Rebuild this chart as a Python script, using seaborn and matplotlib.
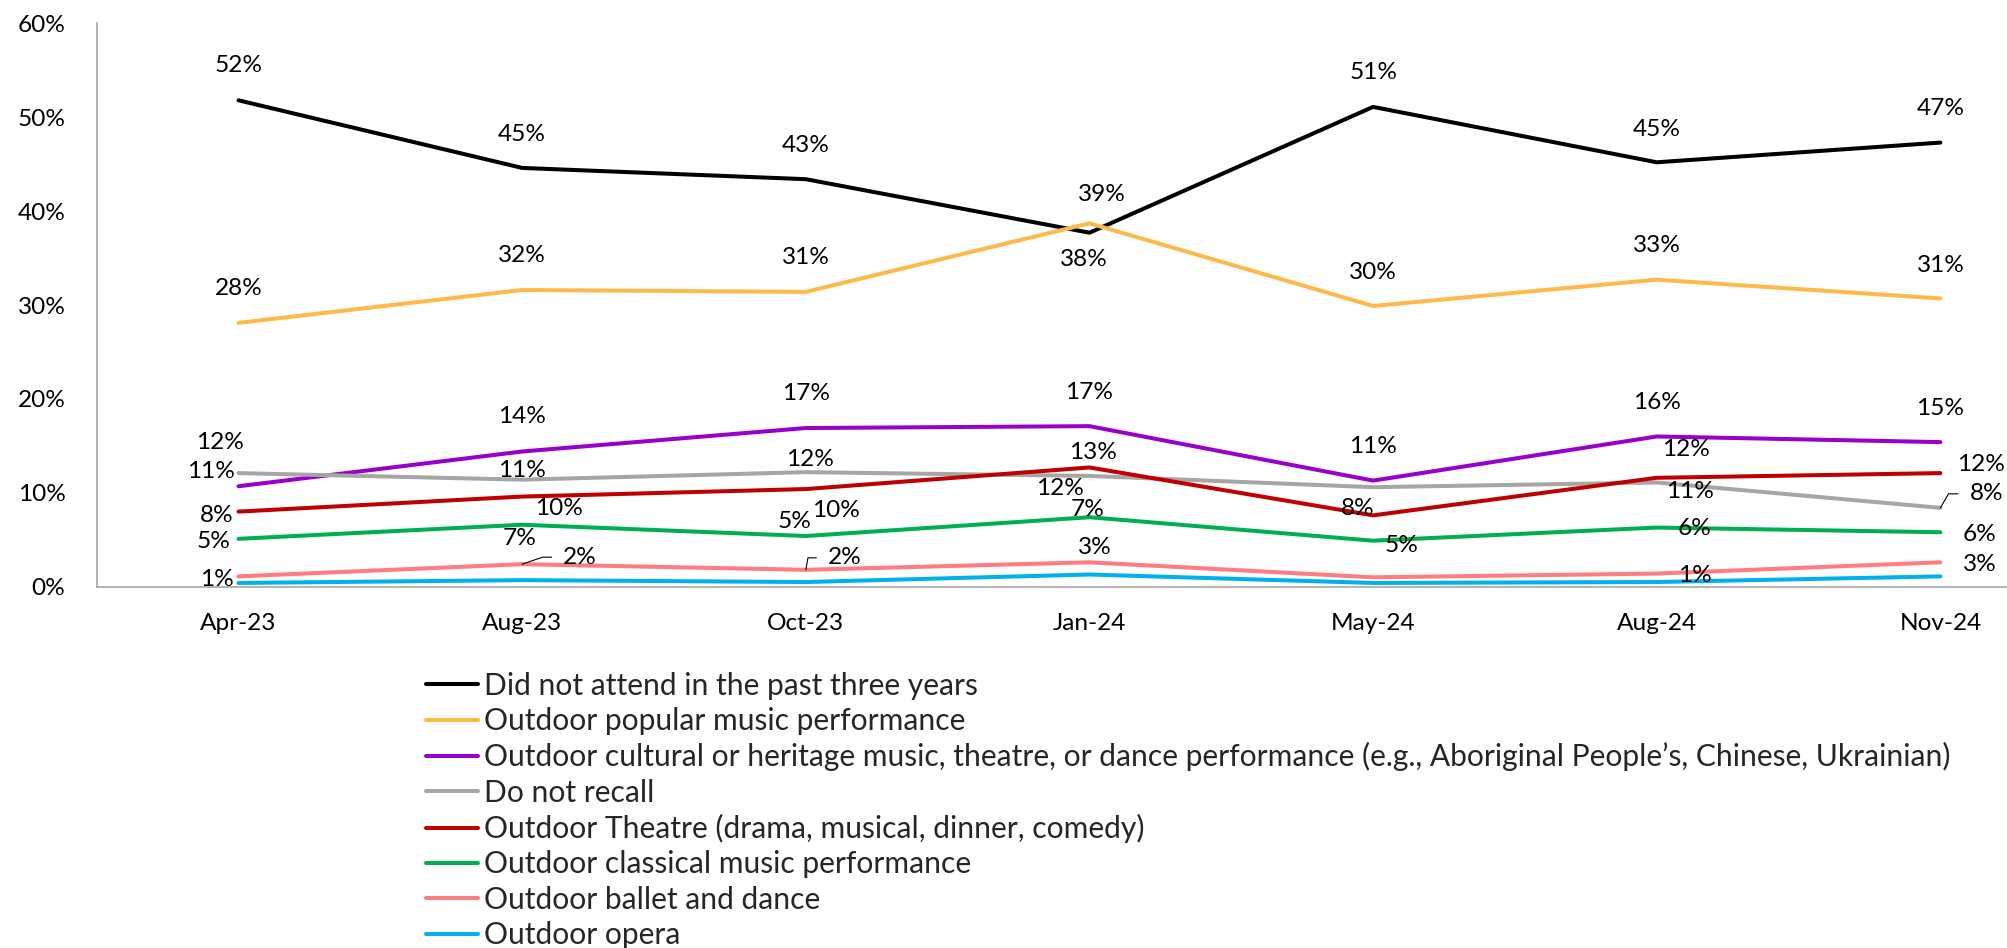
import matplotlib
matplotlib.use("Agg")
import matplotlib.pyplot as plt
from matplotlib.lines import Line2D
from matplotlib.ticker import PercentFormatter, FixedLocator
import seaborn as sns
import pandas as pd

# Survey waves
periods = ["Apr-23", "Aug-23", "Oct-23", "Jan-24", "May-24", "Aug-24", "Nov-24"]

# Share of respondents (%) per wave
did_not_attend = [51.8, 44.6, 43.4, 37.7, 51.1, 45.2, 47.3]
popular_music = [28.1, 31.6, 31.4, 38.7, 29.9, 32.7, 30.7]
cultural_heritage = [10.7, 14.4, 16.9, 17.1, 11.3, 16.0, 15.4]
do_not_recall = [12.1, 11.4, 12.2, 11.8, 10.6, 11.1, 8.4]
theatre = [8.0, 9.6, 10.4, 12.7, 7.6, 11.6, 12.1]
classical_music = [5.1, 6.6, 5.4, 7.4, 4.9, 6.3, 5.8]
ballet_dance = [1.1, 2.4, 1.8, 2.6, 1.0, 1.4, 2.6]
opera = [0.4, 0.7, 0.5, 1.3, 0.4, 0.5, 1.1]

series_names = [
    "Did not attend in the past three years",
    "Outdoor popular music performance",
    "Outdoor cultural or heritage music, theatre, or dance performance (e.g., Aboriginal People\u2019s, Chinese, Ukrainian)",
    "Do not recall",
    "Outdoor Theatre (drama, musical, dinner, comedy)",
    "Outdoor classical music performance",
    "Outdoor ballet and dance",
    "Outdoor opera",
]
series_values = [did_not_attend, popular_music, cultural_heritage, do_not_recall,
                 theatre, classical_music, ballet_dance, opera]
series_colors = ["#000000", "#FFB948", "#9900CC", "#A6A6A6",
                 "#C00000", "#00B050", "#FF7C80", "#00B0F0"]

# Data label placement: offset of label centre from the point in pixels (x, up);
# None = no label drawn for that point
label_offsets = [
    [(0, 35), (0, 33), (0, 34), (-6, -27), (0, 34), (0, 33), (0, 34)],
    [(0, 34), (0, 34), (0, 34), (12, 29), (0, 33), (0, 34), (0, 33)],
    [(-28, 15), (0, 35), (0, 35), (0, 34), (0, 34), (0, 34), (0, 34)],
    [(-19, 31), (0, 9), (4, 13), (-29, -13), None, (33, -9), (46, 14)],
    [(-22, -4), (37, -12), (30, -21), (4, 15), (-15, 7), (29, 28), (41, 9)],
    [(-25, -3), (-3, -14), (-11, 15), (-2, 8), (28, -5), (38, -1), (39, -2)],
    [(-22, -3), (58, 7), (39, 12), (5, 15), None, (38, -2), (39, -2)],
    [None] * 7,
]
# Leader lines: (series index, point index) -> angle of the segment leaving the point
leaders = {(6, 1): 19, (6, 2): 80, (3, 6): 60}

sns.set_theme(style="white")
plt.rcParams["font.family"] = ["Lato", "DejaVu Sans"]

records = []
for name, vals in zip(series_names, series_values):
    for p, v in zip(periods, vals):
        records.append({"period": p, "share": v, "group": name})
df = pd.DataFrame(records)

fig = plt.figure(figsize=(20.08, 9.48), dpi=100)
ax = fig.add_axes([0.04816, 0.3811, 0.9888, 0.5943])

sns.lineplot(data=df, x="period", y="share", hue="group", hue_order=series_names,
             palette=dict(zip(series_names, series_colors)), linewidth=2.9,
             sort=False, legend=False, ax=ax)

ax.set_xlim(-0.5, len(periods) - 0.5)
ax.set_ylim(0, 60)
ax.yaxis.set_major_locator(FixedLocator([0, 10, 20, 30, 40, 50, 60]))
ax.yaxis.set_major_formatter(PercentFormatter(100, decimals=0))
ax.set_xticks(range(len(periods)))
ax.set_xticklabels(periods)
ax.set_xlabel("")
ax.set_ylabel("")
ax.tick_params(axis="y", length=0, pad=22.5, labelsize=17.6, colors="black")
ax.tick_params(axis="x", length=0, pad=19, labelsize=17.6, colors="black")

for side in ["top", "right"]:
    ax.spines[side].set_visible(False)
for side in ["left", "bottom"]:
    ax.spines[side].set_color("#A0A0A0")
    ax.spines[side].set_linewidth(1.1)

for si, vals in enumerate(series_values):
    for pi, v in enumerate(vals):
        off = label_offsets[si][pi]
        if off is None:
            continue
        kw = {}
        if (si, pi) in leaders:
            kw["arrowprops"] = dict(
                arrowstyle="-", color="black", lw=0.8, shrinkA=6, shrinkB=0,
                relpos=(0, 0.5),
                connectionstyle=f"angle,angleA=0,angleB={leaders[(si, pi)]},rad=0")
        ax.annotate(f"{v:.0f}%", xy=(pi, v), xytext=off, textcoords="offset pixels",
                    ha="center", va="center", fontsize=17.6, color="black", **kw)

handles = [Line2D([0], [0], color=c, lw=2.9) for c in series_colors]
fig.legend(handles, series_names, loc="upper left",
           bbox_to_anchor=(0.2120, 0.2914), frameon=False, fontsize=21.6,
           handlelength=1.76, handletextpad=0.2, labelspacing=0.243,
           borderpad=0, borderaxespad=0)

fig.savefig("out.png", dpi=100)
